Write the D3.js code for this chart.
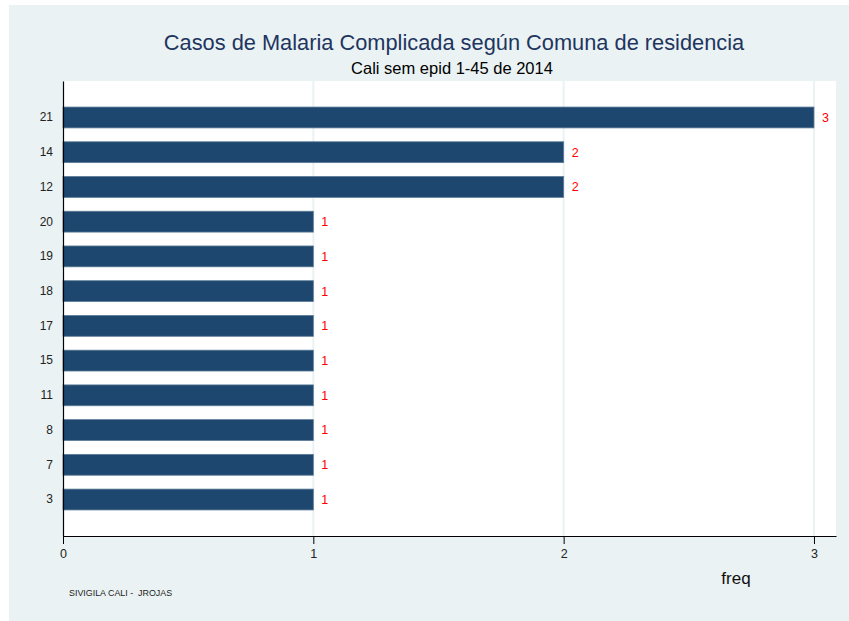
<!DOCTYPE html>
<html>
<head>
<meta charset="utf-8">
<script src="https://cdn.jsdelivr.net/npm/d3@7"></script>
<style>
  body { margin: 0; background: #fff; }
  text { font-family: "Liberation Sans", Arial, sans-serif; }
</style>
</head>
<body>
<div id="chart"></div>
<script>
// Comunas and cases (sorted as in the chart, top to bottom)
var comunas = ["21", "14", "12", "20", "19", "18", "17", "15", "11", "8", "7", "3"];
var casos = [3, 2, 2, 1, 1, 1, 1, 1, 1, 1, 1, 1];
var xTicks = [0, 1, 2, 3];

var width = 849, height = 621;
var margin = {top: 81, right: 13, bottom: 85, left: 63};
var plotW = width - margin.left - margin.right;
var plotH = height - margin.top - margin.bottom;

var svg = d3.select("#chart")
    .append("svg")
    .attr("width", width)
    .attr("height", height);

// Outer background
svg.append("rect")
    .attr("x", 9).attr("y", 5)
    .attr("width", width - 9).attr("height", height - 5)
    .attr("fill", "#EAF2F3");

var g = svg.append("g")
    .attr("transform", "translate(" + margin.left + "," + margin.top + ")");

// Plot region
g.append("rect")
    .attr("width", plotW).attr("height", plotH)
    .attr("fill", "#fff");

var x = d3.scaleLinear()
    .domain([0, 3.088])
    .range([0, plotW]);

var y = d3.scaleBand()
    .domain(comunas)
    .range([0, plotH])
    .paddingInner(0.4)
    .paddingOuter(0.75);

// Vertical grid lines
g.selectAll(".grid")
    .data(xTicks)
    .enter()
    .append("line")
    .attr("x1", function(d) { return x(d); })
    .attr("x2", function(d) { return x(d); })
    .attr("y1", 0).attr("y2", plotH)
    .attr("stroke", "#EAF2F3")
    .attr("stroke-width", 2);

// Bars
g.selectAll(".bar")
    .data(casos)
    .enter()
    .append("rect")
    .attr("x", 0)
    .attr("y", function(d, i) { return y(comunas[i]); })
    .attr("width", function(d) { return x(d); })
    .attr("height", y.bandwidth())
    .attr("fill", "#1D476E")
    .attr("stroke", "#5B7A97")
    .attr("stroke-width", 0.8);

// Value labels
g.selectAll(".lbl")
    .data(casos)
    .enter()
    .append("text")
    .attr("x", function(d) { return x(d) + 8; })
    .attr("y", function(d, i) { return y(comunas[i]) + y.bandwidth() / 2; })
    .attr("dy", "0.35em")
    .attr("fill", "#FF0000")
    .attr("font-size", 12.5)
    .text(function(d) { return d; });

// Y axis
var yAxis = g.append("g")
    .call(d3.axisLeft(y).tickSize(0).tickPadding(10));
yAxis.select(".domain").attr("stroke", "#000").attr("stroke-width", 1.2);
yAxis.selectAll("text").attr("font-size", 12).attr("fill", "#222")
    .style("font-family", "Liberation Sans, Arial, sans-serif");

// X axis
var xAxis = g.append("g")
    .attr("transform", "translate(0," + plotH + ")")
    .call(d3.axisBottom(x).tickValues(xTicks).tickFormat(d3.format("d")).tickSize(8).tickSizeOuter(0).tickPadding(5));
xAxis.select(".domain").attr("stroke", "#000").attr("stroke-width", 1.2);
xAxis.selectAll(".tick line").attr("stroke", "#000");
xAxis.selectAll("text").attr("font-size", 12.5).attr("fill", "#222")
    .style("font-family", "Liberation Sans, Arial, sans-serif");

// Titles
svg.append("text")
    .attr("x", 454).attr("y", 50)
    .attr("text-anchor", "middle")
    .attr("font-size", 21.8)
    .attr("fill", "#1E3560")
    .text("Casos de Malaria Complicada según Comuna de residencia");

svg.append("text")
    .attr("x", 452).attr("y", 73.5)
    .attr("text-anchor", "middle")
    .attr("font-size", 16.5)
    .attr("fill", "#000")
    .text("Cali sem epid 1-45 de 2014");

// Axis title
svg.append("text")
    .attr("x", 736).attr("y", 584)
    .attr("text-anchor", "middle")
    .attr("font-size", 17)
    .attr("fill", "#111")
    .text("freq");

// Footnote
svg.append("text")
    .attr("x", 69).attr("y", 596)
    .attr("font-size", 8.9)
    .attr("fill", "#222")
    .style("white-space", "pre")
    .text("SIVIGILA CALI -  JROJAS");
</script>
</body>
</html>
